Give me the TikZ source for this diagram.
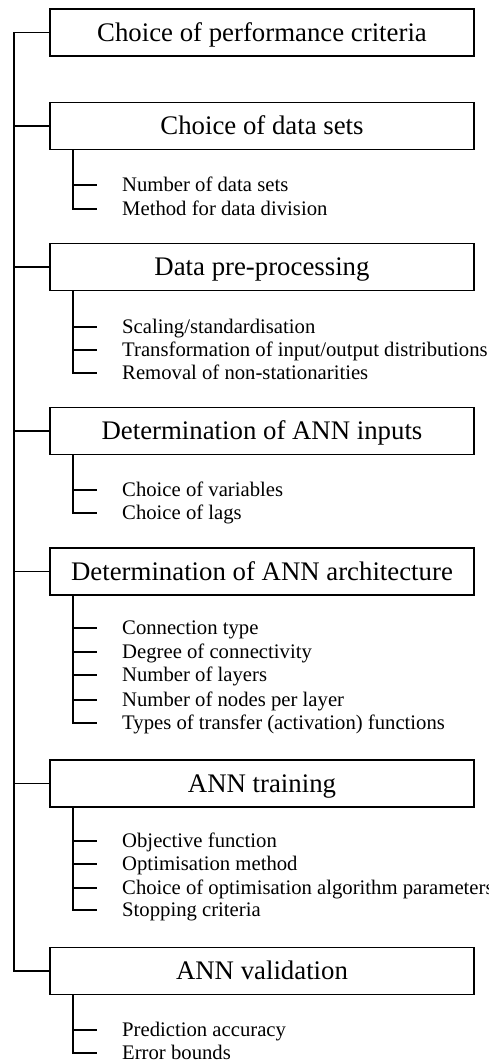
\documentclass[tikz,border=0pt]{standalone}
\usepackage{fontspec}
\setmainfont{Liberation Serif}
\begin{document}
\begin{tikzpicture}[x=1pt,y=-1pt,
  stagebox/.style={draw,line width=1.8pt,minimum width=424pt,minimum height=47pt,
    inner sep=0pt,font=\fontsize{26.8}{30}\selectfont,text height=17.7pt,text depth=0pt},
  subitem/.style={anchor=west,inner sep=0pt,font=\fontsize{20.7}{24}\selectfont,
    text height=13.7pt,text depth=0pt},
  link/.style={line width=1.5pt}]
\useasboundingbox (0,0) rectangle (489,1061);

% main stages
\node[stagebox] (b1) at (262,32.5) {Choice of performance criteria};
\node[stagebox] (b2) at (262,126) {Choice of data sets};
\node[stagebox] (b3) at (262,267) {Data pre-processing};
\node[stagebox] (b4) at (262,431) {Determination of ANN inputs};
\node[stagebox] (b5) at (262,571.5) {Determination of ANN architecture};
\node[stagebox] (b6) at (262,783.5) {ANN training};
\node[stagebox] (b7) at (262,971) {ANN validation};

% sub-items
\node[subitem] (s21) at (122,185) {Number of data sets};
\node[subitem] (s22) at (122,209) {Method for data division};

\node[subitem] (s31) at (122,327) {Scaling/standardisation};
\node[subitem] (s32) at (122,350) {Transformation of input/output distributions};
\node[subitem] (s33) at (122,373) {Removal of non-stationarities};

\node[subitem] (s41) at (122,490) {Choice of variables};
\node[subitem] (s42) at (122,513) {Choice of lags};

\node[subitem] (s51) at (122,628) {Connection type};
\node[subitem] (s52) at (122,652) {Degree of connectivity};
\node[subitem] (s53) at (122,675) {Number of layers};
\node[subitem] (s54) at (122,700) {Number of nodes per layer};
\node[subitem] (s55) at (122,723) {Types of transfer (activation) functions};

\node[subitem] (s61) at (122,841) {Objective function};
\node[subitem] (s62) at (122,864) {Optimisation method};
\node[subitem] (s63) at (122,888) {Choice of optimisation algorithm parameters};
\node[subitem] (s64) at (122,910) {Stopping criteria};

\node[subitem] (s71) at (122,1030) {Prediction accuracy};
\node[subitem] (s72) at (122,1053) {Error bounds};

% main spine
\coordinate (spTop) at (14,32.5);
\coordinate (spBot) at (14,971);
\draw[link] (b1.west) -- (spTop) -- (spBot) -- (b7.west);
\foreach \b in {b2,b3,b4,b5,b6}
  \draw[link] (\b.west) -- (\b.west -| spTop);

% sub-item brackets
\coordinate (sub) at (73,0);
\foreach \b/\last/\others in {b2/s22/{s21},b3/s33/{s31,s32},b4/s42/{s41},
    b5/s55/{s51,s52,s53,s54},b6/s64/{s61,s62,s63},b7/s72/{s71}}{
  \draw[link] (\b.south -| sub) |- ([xshift=-25pt]\last.west);
  \foreach \s in \others
    \draw[link] (\s.west -| sub) -- ([xshift=-25pt]\s.west);
}
\end{tikzpicture}
\end{document}
